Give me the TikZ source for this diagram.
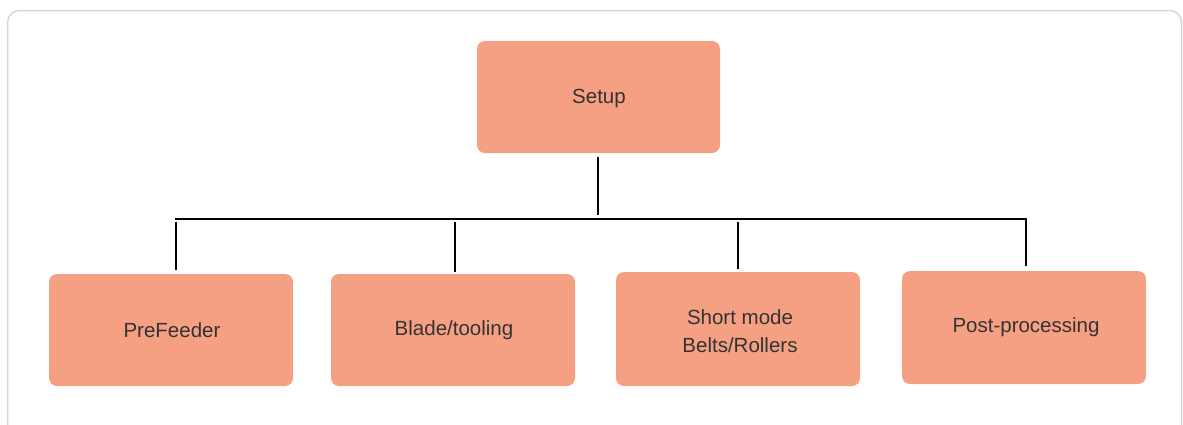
\documentclass[tikz,border=0pt]{standalone}
\usepackage{fontspec}
\setmainfont{Liberation Sans}
\definecolor{boxfill}{HTML}{F5A083}
\definecolor{txt}{HTML}{333333}
\definecolor{frame}{HTML}{D6D6D6}
\begin{document}
\begin{tikzpicture}[x=1pt,y=-1pt,
  box/.style={draw=none,fill=boxfill,rounded corners=8pt,text=txt,align=center,
    font=\fontsize{20.5}{28}\selectfont},
  conn/.style={draw=black,line width=2pt}]
\useasboundingbox (0,0) rectangle (1183,424);
\draw[frame,line width=1.5pt,rounded corners=12pt] (7.5,10.5) -- (1181.5,10.5) -- (1181.5,440) -- (7.5,440) -- cycle;
\path[box] (477,41) rectangle (720,153);
\node[box,fill=none] (setup) at (599,98) {Setup};
\path[box] (49,274) rectangle (293,386);
\node[box,fill=none] (pre) at (172,330) {PreFeeder};
\path[box] (331,274) rectangle (575,386);
\node[box,fill=none] (blade) at (454,330) {Blade/tooling};
\path[box] (616,272) rectangle (860,386);
\node[box,fill=none] (short) at (740,331) {Short mode\\Belts/Rollers};
\path[box] (902,271) rectangle (1146,384);
\node[box,fill=none] (post) at (1026,327) {Post-processing};
\coordinate (s1) at (598,157);
\coordinate (s2) at (598,215);
\coordinate (hl) at (175,219);
\coordinate (hr) at (1026,219);
\coordinate (p1) at (176,222);
\coordinate (p2) at (176,270);
\coordinate (b1) at (455,222);
\coordinate (b2) at (455,272);
\coordinate (m1) at (738,222);
\coordinate (m2) at (738,269);
\coordinate (q2) at (1026,266);
\draw[conn] (s1) -- (s2);
\draw[conn] (hl) -- (hr) -- (q2);
\draw[conn] (p1) -- (p2);
\draw[conn] (b1) -- (b2);
\draw[conn] (m1) -- (m2);
\end{tikzpicture}
\end{document}
